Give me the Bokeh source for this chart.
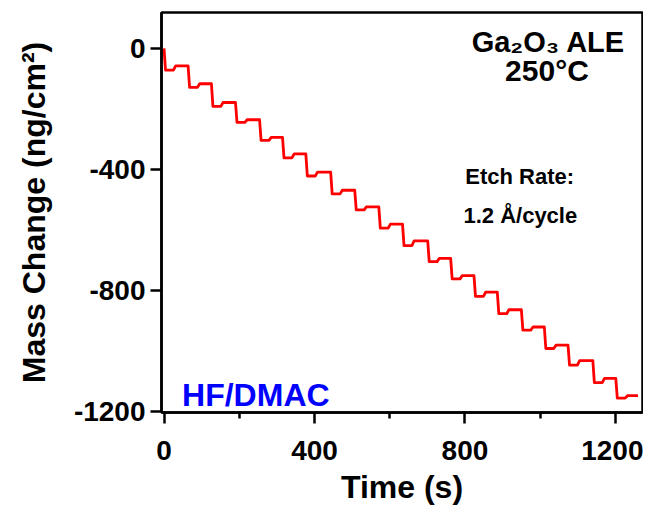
from bokeh.plotting import figure
from bokeh.models import Range1d, FixedTicker, Label
from bokeh.embed import file_html
from bokeh.resources import INLINE

# Staircase QCM trace (time in s, mass change in ng/cm^2)
time_s = [0, 4, 25, 31,
          64, 68, 89, 95,
          126, 130, 151, 157,
          190, 194, 215, 221,
          254, 258, 279, 285,
          315, 319, 340, 346,
          377, 381, 402, 408,
          443, 447, 468, 474,
          507, 511, 532, 538,
          571, 575, 596, 602,
          634, 638, 659, 665,
          701, 705, 726, 732,
          762, 766, 787, 793,
          824, 828, 849, 855,
          886, 890, 911, 917,
          950, 954, 975, 981,
          1011, 1015, 1036, 1042,
          1074, 1078, 1099, 1105,
          1140, 1144, 1165, 1171,
          1201, 1205, 1226, 1232,
          1260]
mass = [0, -72, -72, -58,
        -58, -129, -129, -117,
        -117, -192, -192, -179,
        -179, -245, -245, -236,
        -236, -304, -304, -294,
        -294, -362, -362, -349,
        -349, -422, -422, -409,
        -409, -481, -481, -469,
        -469, -534, -534, -524,
        -524, -594, -594, -581,
        -581, -652, -652, -636,
        -636, -705, -705, -694,
        -694, -762, -762, -751,
        -751, -820, -820, -806,
        -806, -877, -877, -864,
        -864, -931, -931, -921,
        -921, -992, -992, -981,
        -981, -1047, -1047, -1032,
        -1032, -1105, -1105, -1091,
        -1091, -1156, -1156, -1148,
        -1148]

x_ticks = [0, 400, 800, 1200]
x_minor = [200, 600, 1000]
y_ticks = [0, -400, -800, -1200]
y_tick_labels = ["0", "-400", "-800", "-1200"]

FONT = "Liberation Sans"

p = figure(width=643, height=507, output_backend="svg", toolbar_location=None,
           x_range=Range1d(-6.7, 1272), y_range=Range1d(-1203.5, 118.4),
           min_border_left=161, min_border_right=1, min_border_top=12,
           min_border_bottom=93)
p.background_fill_color = "white"
p.border_fill_color = "white"
p.outline_line_color = "black"
p.outline_line_width = 2.5
p.xgrid.visible = False
p.ygrid.visible = False

p.line(time_s, mass, line_color="#FF0000", line_width=2.8, line_join="round")

for ax in (p.xaxis[0], p.yaxis[0]):
    ax.axis_line_width = 2.5
    ax.axis_line_color = "black"
    ax.major_tick_line_width = 2.5
    ax.minor_tick_line_width = 2.5
    ax.major_tick_in = 0
    ax.minor_tick_in = 0
    ax.major_label_text_font = FONT
    ax.major_label_text_font_style = "bold"
    ax.major_label_text_font_size = "28px"
    ax.major_label_text_color = "black"
    ax.axis_label_text_font = FONT
    ax.axis_label_text_font_style = "bold"
    ax.axis_label_text_font_size = "32px"
    ax.axis_label_text_color = "black"

p.xaxis.ticker = FixedTicker(ticks=x_ticks, minor_ticks=x_minor)
p.yaxis.ticker = FixedTicker(ticks=y_ticks)
p.yaxis.major_label_overrides = {t: s for t, s in zip(y_ticks, y_tick_labels)}
p.xaxis.major_tick_out = 11
p.xaxis.minor_tick_out = 6
p.yaxis.major_tick_out = 11
p.yaxis.minor_tick_line_color = None
p.xaxis.major_label_standoff = 17
p.yaxis.major_label_standoff = 5
p.xaxis.axis_label = "Time (s)"
p.yaxis.axis_label = "Mass Change (ng/cm²)"
p.xaxis.axis_label_standoff = 6
p.yaxis.axis_label_standoff = 19

def add_label(x, y, text, size, align="left", color="black"):
    p.add_layout(Label(x=x, y=y, text=text, text_font=FONT, text_font_style="bold",
                       text_font_size=size, text_align=align, text_baseline="alphabetic",
                       text_color=color))

add_label(1022, 21, "Ga₂O₃ ALE", "29px", align="center")
add_label(1018, -74, "250°C", "30px", align="center")
add_label(801, -425, "Etch Rate:", "22px")
add_label(796, -553, "1.2 Å/cycle", "22px")
add_label(48, -1145, "HF/DMAC", "32px", color="#0000FF")

open("out.html", "w").write(file_html(p, INLINE))
